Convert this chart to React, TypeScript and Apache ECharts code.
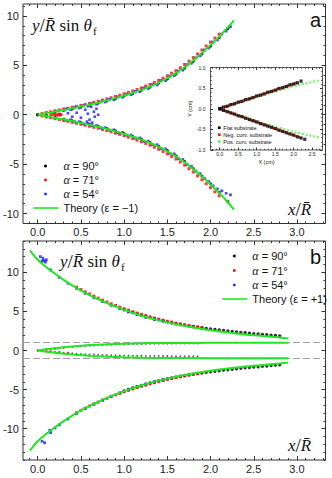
import React, { useEffect, useRef } from "react";
import * as echarts from "echarts";

// ---------------- tick values ----------------
const xMajorTicks = [0, 0.5, 1, 1.5, 2, 2.5, 3];
const xMinorTicks = [-0.1, 0, 0.1, 0.2, 0.3, 0.4, 0.5, 0.6, 0.7, 0.8, 0.9, 1, 1.1, 1.2, 1.3, 1.4, 1.5, 1.6, 1.7, 1.8, 1.9, 2, 2.1, 2.2, 2.3, 2.4, 2.5, 2.6, 2.7, 2.8, 2.9, 3, 3.1, 3.2, 3.3];
const yMajorTicks = [-10, -5, 0, 5, 10];
const yMinorTicksA = [-11, -10, -9, -8, -7, -6, -5, -4, -3, -2, -1, 0, 1, 2, 3, 4, 5, 6, 7, 8, 9, 10, 11];
const yMinorTicksB = [-14, -13, -12, -11, -10, -9, -8, -7, -6, -5, -4, -3, -2, -1, 0, 1, 2, 3, 4, 5, 6, 7, 8, 9, 10, 11, 12, 13, 14];
const insXMajor = [0, 0.5, 1, 1.5, 2, 2.5];
const insXMinor = [-0.2, -0.1, 0, 0.1, 0.2, 0.3, 0.4, 0.5, 0.6, 0.7, 0.8, 0.9, 1, 1.1, 1.2, 1.3, 1.4, 1.5, 1.6, 1.7, 1.8, 1.9, 2, 2.1, 2.2, 2.3, 2.4, 2.5, 2.6, 2.7];
const insYMajor = [-1, -0.5, 0, 0.5, 1];
const insYMinor = [-0.9, -0.8, -0.7, -0.6, -0.4, -0.3, -0.2, -0.1, 0.1, 0.2, 0.3, 0.4, 0.6, 0.7, 0.8, 0.9];

// ---------------- panel a (epsilon = -1) ----------------
const thAx = [0, 0.1, 0.2, 0.3, 0.4, 0.5, 0.6, 0.7, 0.8, 0.9, 1.0, 1.1, 1.2, 1.3, 1.4, 1.5, 1.6, 1.7, 1.8, 1.9, 2.0, 2.1, 2.2, 2.27];
const thAUp = [0, 0.16, 0.32, 0.48, 0.65, 0.83, 1.02, 1.22, 1.44, 1.68, 1.94, 2.22, 2.52, 2.86, 3.25, 3.7, 4.2, 4.8, 5.5, 6.25, 7.05, 7.9, 8.85, 9.55];
const thALo = [0, -0.16, -0.32, -0.48, -0.65, -0.83, -1.02, -1.22, -1.44, -1.68, -1.94, -2.22, -2.52, -2.86, -3.25, -3.7, -4.2, -4.8, -5.5, -6.25, -7.05, -7.9, -8.85, -9.6];

const a90x = [0, 0.1, 0.2, 0.3, 0.4, 0.5, 0.6, 0.7, 0.8, 0.9, 1.0, 1.1, 1.2, 1.3, 1.4, 1.5, 1.6, 1.7, 1.8, 1.9, 2.0, 2.1, 2.2];
const a90Up = [0.02, 0.12, 0.28, 0.44, 0.6, 0.78, 0.97, 1.17, 1.4, 1.62, 1.9, 2.16, 2.48, 2.8, 3.2, 3.62, 4.12, 4.72, 5.4, 6.15, 6.95, 7.8, 8.7];
const a90Lo = [-0.02, -0.14, -0.3, -0.46, -0.62, -0.8, -0.98, -1.18, -1.4, -1.64, -1.9, -2.18, -2.48, -2.82, -3.2, -3.64, -4.15, -4.75, -5.45, -6.2, -7.0, -7.85, -8.8];

const a71x = [0.05, 0.1, 0.15, 0.2, 0.25, 0.3, 0.35, 0.4, 0.45, 0.5, 0.55, 0.6, 0.65, 0.7, 0.75, 0.8, 0.85, 0.9, 0.95, 1.0, 1.05, 1.1, 1.15, 1.2, 1.25, 1.3, 1.35, 1.4, 1.45, 1.5, 1.55, 1.6, 1.65, 1.7, 1.75, 1.8, 1.85, 1.9, 1.95, 2.0, 2.05, 2.1];
const a71Up = [0.12, 0.22, 0.3, 0.4, 0.48, 0.58, 0.66, 0.76, 0.85, 0.95, 1.05, 1.15, 1.26, 1.36, 1.48, 1.6, 1.72, 1.85, 1.98, 2.12, 2.26, 2.41, 2.56, 2.72, 2.9, 3.07, 3.27, 3.48, 3.7, 3.94, 4.2, 4.46, 4.76, 5.08, 5.42, 5.78, 6.15, 6.55, 6.95, 7.35, 7.75, 8.15];
const a71Lo = [-0.12, -0.22, -0.31, -0.4, -0.49, -0.58, -0.67, -0.77, -0.86, -0.96, -1.06, -1.16, -1.27, -1.37, -1.49, -1.61, -1.73, -1.86, -1.99, -2.13, -2.27, -2.42, -2.57, -2.74, -2.91, -3.09, -3.29, -3.5, -3.72, -3.96, -4.22, -4.48, -4.78, -5.1, -5.45, -5.8, -6.18, -6.58, -6.98, -7.38, -7.8, -8.2];
const a71CuspX = [0.15, 0.18, 0.2, 0.22, 0.24, 0.25, 0.26, 0.27];
const a71CuspY = [0, 0.03, 0.05, -0.05, 0.02, 0.08, -0.02, 0];

const a54x = [0.33, 0.43, 0.53, 0.63, 0.73, 0.83, 0.93, 1.03, 1.13, 1.23, 1.33, 1.43, 1.53, 1.63, 1.73, 1.83, 1.93, 2.03, 2.13, 2.23];
const a54Up = [0.58, 0.75, 0.92, 1.12, 1.3, 1.56, 1.8, 2.08, 2.36, 2.7, 3.05, 3.45, 3.9, 4.42, 5.05, 5.75, 6.55, 7.35, 8.15, 8.9];
const a54Lo = [-0.55, -0.72, -0.93, -1.1, -1.32, -1.55, -1.82, -2.06, -2.36, -2.68, -3.02, -3.42, -3.9, -4.45, -5.05, -5.7, -6.45, -7.2, -7.7, -8.1];
const a54x2 = [0.38, 0.48, 0.58, 0.68, 0.78, 0.88, 0.98, 1.08, 1.18, 1.28, 1.38, 1.48, 1.58, 1.68, 1.78, 1.88, 1.98, 2.08, 2.18];
const a54Up2 = [0.5, 0.68, 0.86, 1.05, 1.28, 1.5, 1.76, 2.02, 2.32, 2.64, 3.0, 3.44, 3.95, 4.5, 5.2, 5.95, 6.75, 7.55, 8.45];
const a54Lo2 = [-0.5, -0.7, -0.88, -1.08, -1.3, -1.52, -1.78, -2.04, -2.34, -2.66, -3.02, -3.45, -3.95, -4.52, -5.2, -5.95, -6.75, -7.5, -7.95];
const a54CuspX = [0.35, 0.4, 0.45, 0.5, 0.55, 0.57, 0.58, 0.6, 0.62, 0.63, 0.65, 0.66, 0.68, 0.7];
const a54CuspY = [0.15, -0.2, 0.2, -0.3, 0.5, -0.7, 0.1, -0.5, 0.8, -0.8, 0.3, -0.2, 0.6, 0.0];

// ---------------- panel b (epsilon = +1) ----------------
const thBx = [-0.09, 0, 0.1, 0.2, 0.3, 0.4, 0.5, 0.6, 0.7, 0.8, 0.9, 1.0, 1.2, 1.4, 1.6, 1.8, 2.0, 2.2, 2.4, 2.6, 2.8, 2.9];
const thBUp = [12.8, 11.6, 10.66, 9.81, 9.03, 8.32, 7.67, 7.09, 6.55, 6.06, 5.61, 5.2, 4.45, 3.85, 3.35, 2.95, 2.6, 2.3, 2.05, 1.85, 1.65, 1.55];
const thBLo = [-12.8, -11.6, -10.66, -9.81, -9.03, -8.32, -7.67, -7.09, -6.55, -6.06, -5.61, -5.2, -4.45, -3.85, -3.35, -2.95, -2.6, -2.3, -2.05, -1.85, -1.65, -1.55];
const thBix = [0, 0.1, 0.2, 0.3, 0.4, 0.5, 0.6, 0.8, 1.0, 1.2, 1.5, 2.0, 2.5, 2.9];
const thBiUp = [0, 0.15, 0.29, 0.41, 0.52, 0.61, 0.69, 0.8, 0.87, 0.92, 0.96, 0.98, 0.99, 1.0];
const thBiLo = [0, -0.15, -0.29, -0.41, -0.52, -0.61, -0.69, -0.8, -0.87, -0.92, -0.96, -0.98, -0.99, -1.0];
const asymptotes = [1, -1];

const b90x = [1.0, 1.05, 1.1, 1.15, 1.2, 1.25, 1.3, 1.35, 1.4, 1.45, 1.5, 1.55, 1.6, 1.65, 1.7, 1.75, 1.8, 1.85, 1.9, 1.95, 2.0, 2.05, 2.1, 2.15, 2.2, 2.25, 2.3, 2.35, 2.4, 2.45, 2.5, 2.55, 2.6, 2.65, 2.7, 2.75, 2.8];
const b90Up = [5.22, 5.03, 4.85, 4.67, 4.5, 4.35, 4.2, 4.06, 3.92, 3.79, 3.66, 3.54, 3.43, 3.33, 3.24, 3.15, 3.06, 2.98, 2.9, 2.82, 2.75, 2.68, 2.62, 2.55, 2.49, 2.43, 2.37, 2.31, 2.26, 2.21, 2.16, 2.11, 2.06, 2.01, 1.96, 1.91, 1.87];
const b90Lo = [-5.18, -4.99, -4.8, -4.63, -4.46, -4.3, -4.15, -4.01, -3.88, -3.75, -3.62, -3.51, -3.4, -3.3, -3.2, -3.11, -3.02, -2.94, -2.86, -2.79, -2.72, -2.65, -2.58, -2.51, -2.45, -2.39, -2.33, -2.27, -2.22, -2.17, -2.12, -2.07, -2.02, -1.97, -1.92, -1.87, -1.83];
const b90ix = [0, 0.05, 0.1, 0.15, 0.2, 0.25, 0.3, 0.35, 0.4, 0.45, 0.5, 0.55, 0.6, 0.65, 0.7, 0.75, 0.8, 0.85, 0.9, 0.95, 1.0, 1.05, 1.1, 1.15, 1.2, 1.25, 1.3, 1.35, 1.4, 1.45, 1.5, 1.55, 1.6, 1.65, 1.7, 1.75, 1.8, 1.85];
const b90iUp = [0.02, 0.07, 0.12, 0.18, 0.24, 0.3, 0.36, 0.41, 0.46, 0.51, 0.55, 0.59, 0.62, 0.65, 0.68, 0.7, 0.73, 0.75, 0.77, 0.79, 0.8, 0.81, 0.82, 0.83, 0.84, 0.85, 0.86, 0.86, 0.87, 0.87, 0.88, 0.88, 0.89, 0.89, 0.9, 0.9, 0.9, 0.9];
const b90iLo = [-0.02, -0.06, -0.1, -0.15, -0.2, -0.25, -0.29, -0.33, -0.37, -0.41, -0.44, -0.47, -0.5, -0.53, -0.55, -0.57, -0.59, -0.61, -0.62, -0.64, -0.65, -0.66, -0.67, -0.68, -0.69, -0.7, -0.7, -0.71, -0.71, -0.72, -0.72, -0.73, -0.73, -0.74, -0.74, -0.75, -0.75, -0.75];
const grayX = [1.0, 1.1, 1.2, 1.3, 1.4, 1.5, 1.6, 1.7, 1.8, 1.9, 2.0, 2.1, 2.2, 2.3, 2.4, 2.5, 2.6, 2.7, 2.8, 2.9];
const grayUp = [0.95, 0.96, 0.96, 0.97, 0.97, 0.97, 0.98, 0.98, 0.98, 0.98, 0.99, 0.99, 0.99, 0.99, 0.99, 1.0, 1.0, 1.0, 1.0, 1.0];
const grayLo = [-0.96, -0.96, -0.97, -0.97, -0.97, -0.98, -0.98, -0.98, -0.98, -0.99, -0.99, -0.99, -0.99, -0.99, -1.0, -1.0, -1.0, -1.0, -1.0, -1.0];

const b71x = [0.45, 0.5, 0.55, 0.6, 0.65, 0.7, 0.75, 0.8, 0.85, 0.9, 0.95, 1.0, 1.05, 1.1, 1.15, 1.2, 1.25, 1.3, 1.35, 1.4, 1.45, 1.5, 1.55, 1.6, 1.65, 1.7, 1.75, 1.8, 1.85, 1.9];
const b71Up = [8.1, 7.8, 7.5, 7.22, 6.96, 6.7, 6.45, 6.2, 5.98, 5.76, 5.55, 5.35, 5.16, 4.97, 4.79, 4.62, 4.46, 4.3, 4.15, 4.01, 3.87, 3.74, 3.62, 3.5, 3.39, 3.28, 3.18, 3.08, 2.99, 2.9];
const b71Lo = [-7.95, -7.65, -7.38, -7.1, -6.85, -6.6, -6.35, -6.12, -5.9, -5.68, -5.48, -5.28, -5.1, -4.92, -4.74, -4.58, -4.42, -4.27, -4.12, -3.98, -3.84, -3.71, -3.59, -3.47, -3.36, -3.25, -3.15, -3.05, -2.96, -2.87];
const b71ix = [0.05, 0.1, 0.15, 0.2, 0.25, 0.3, 0.35];
const b71iY = [0.0, 0.12, -0.12, 0.26, -0.22, 0.38, -0.3];

const b54x = [0.05, 0.15, 0.25, 0.35, 0.45, 0.55, 0.65, 0.75, 0.85, 0.95, 1.05, 1.15, 1.25, 1.35, 1.45];
const b54Up = [11.4, 10.3, 9.35, 8.6, 7.95, 7.3, 6.75, 6.25, 5.78, 5.33, 4.93, 4.58, 4.25, 3.95, 3.75];
const b54Lo = [-11.6, -10.5, -9.5, -8.75, -8.05, -7.4, -6.85, -6.35, -5.85, -5.42, -5.0, -4.62, -4.3, -4.0, -3.72];
const b54Ex = [0.03, 0.06, 0.07, 0.09, 0.1, 0.08, 0.14, 0.2];
const b54Ey = [12.0, 11.8, 11.5, 11.3, 11.6, -11.8, -10.2, -9.9];

// ---------------- inset (cm) ----------------
const flatUpX = [0, 0.1, 0.2, 0.3, 0.4, 0.5, 0.6, 0.7, 0.8, 0.9, 1.0, 1.1, 1.2, 1.3, 1.4, 1.5, 1.6, 1.7, 1.8, 1.9, 2.0, 2.1, 2.2];
const flatUpY = [0, 0.04, 0.06, 0.1, 0.12, 0.16, 0.18, 0.22, 0.24, 0.27, 0.31, 0.33, 0.36, 0.4, 0.42, 0.45, 0.49, 0.51, 0.54, 0.58, 0.6, 0.63, 0.67];
const flatLoX = [0, 0.1, 0.2, 0.3, 0.4, 0.5, 0.6, 0.7, 0.8, 0.9, 1.0, 1.1, 1.2, 1.3, 1.4, 1.5, 1.6, 1.7, 1.8, 1.9, 2.0, 2.1, 2.2, 2.3];
const flatLoY = [0, -0.04, -0.07, -0.1, -0.13, -0.17, -0.19, -0.23, -0.26, -0.29, -0.32, -0.36, -0.39, -0.42, -0.45, -0.48, -0.52, -0.55, -0.58, -0.61, -0.64, -0.68, -0.71, -0.74];
const posX = [0.05, 0.15, 0.25, 0.35, 0.45, 0.55, 0.65, 0.75, 0.85, 0.95, 1.05, 1.15, 1.25, 1.35, 1.45, 1.55, 1.65, 1.75, 1.85, 1.95, 2.05, 2.15, 2.25, 2.35, 2.45, 2.55, 2.65];
const posUpY = [0.01, 0.04, 0.07, 0.1, 0.13, 0.15, 0.18, 0.21, 0.24, 0.27, 0.3, 0.32, 0.35, 0.38, 0.4, 0.43, 0.46, 0.48, 0.51, 0.53, 0.56, 0.58, 0.6, 0.62, 0.64, 0.66, 0.68];
const posLoY = [-0.02, -0.05, -0.08, -0.11, -0.14, -0.17, -0.2, -0.23, -0.26, -0.28, -0.31, -0.34, -0.37, -0.39, -0.42, -0.45, -0.47, -0.5, -0.52, -0.55, -0.57, -0.59, -0.61, -0.63, -0.65, -0.67, -0.69];
const negUpX = [0.05, 0.15, 0.25, 0.35, 0.45, 0.55, 0.65, 0.75, 0.85, 0.95, 1.05, 1.15, 1.25, 1.35, 1.45, 1.55, 1.65, 1.75, 1.85, 1.95, 2.05];
const negUpY = [0.02, 0.05, 0.08, 0.11, 0.14, 0.17, 0.2, 0.23, 0.26, 0.29, 0.32, 0.35, 0.38, 0.41, 0.44, 0.47, 0.5, 0.53, 0.56, 0.59, 0.62];
const negLoX = [0.05, 0.15, 0.25, 0.35, 0.45, 0.55, 0.65, 0.75, 0.85, 0.95, 1.05, 1.15, 1.25, 1.35, 1.45, 1.55, 1.65, 1.75, 1.85, 1.95, 2.05, 2.15];
const negLoY = [-0.02, -0.05, -0.08, -0.12, -0.15, -0.18, -0.21, -0.24, -0.28, -0.31, -0.34, -0.37, -0.4, -0.44, -0.47, -0.5, -0.53, -0.56, -0.6, -0.63, -0.66, -0.69];

// ---------------- styles ----------------
const FRAME = "#333";
const LABEL = "#222";
const GREEN = "#22e622";
const RED = "#ee1111";
const BLUE = "#1a1aff";
const LGREEN = "#66ee55";
const SANS = "Liberation Sans, Arial, sans-serif";
const SERIF = "Liberation Serif, Times New Roman, serif";

const pts = (xs: number[], ys: number[]) => xs.map((x, i) => [x, ys[i]]);

function addFrame(
  xAxes: any[], yAxes: any[], grid: number,
  xr: number[], yr: number[],
  xMaj: number[], xMin: number[], yMaj: number[], yMin: number[],
  o: { maj: number; min: number; fs: number; xMargin: number; yMargin: number; xFmt: any; yFmt: any; xName?: any; yName?: any }
) {
  const xi = xAxes.length;
  const yi = yAxes.length;
  const mkX = (pos: string, vals: number[], len: number, lab: boolean, nm?: any) => ({
    type: "value", gridIndex: grid, min: xr[0], max: xr[1], position: pos,
    axisLine: { show: false, onZero: false }, splitLine: { show: false },
    axisTick: { show: true, inside: true, length: len, customValues: vals, lineStyle: { color: FRAME, width: 1 } },
    axisLabel: lab
      ? { show: true, customValues: xMaj, formatter: o.xFmt, fontSize: o.fs, color: LABEL, margin: o.xMargin, fontFamily: SANS }
      : { show: false },
    ...(nm || {}),
  });
  const mkY = (pos: string, vals: number[], len: number, lab: boolean, nm?: any) => ({
    type: "value", gridIndex: grid, min: yr[0], max: yr[1], position: pos,
    axisLine: { show: false, onZero: false }, splitLine: { show: false },
    axisTick: { show: true, inside: true, length: len, customValues: vals, lineStyle: { color: FRAME, width: 1 } },
    axisLabel: lab
      ? { show: true, customValues: yMaj, formatter: o.yFmt, fontSize: o.fs, color: LABEL, margin: o.yMargin, fontFamily: SANS }
      : { show: false },
    ...(nm || {}),
  });
  xAxes.push(mkX("bottom", xMaj, o.maj, true, o.xName), mkX("bottom", xMin, o.min, false), mkX("top", xMaj, o.maj, false), mkX("top", xMin, o.min, false));
  yAxes.push(mkY("left", yMaj, o.maj, true, o.yName), mkY("left", yMin, o.min, false), mkY("right", yMaj, o.maj, false), mkY("right", yMin, o.min, false));
  return { x: xi, y: yi };
}

export default function App() {
  const ref = useRef<HTMLDivElement>(null);
  useEffect(() => {
    if (!ref.current) return;
    const chart = echarts.init(ref.current, undefined, { renderer: "svg" });
    const xAxes: any[] = [];
    const yAxes: any[] = [];
    const f1 = (v: number) => v.toFixed(1);
    const f0 = (v: number) => String(v);
    const A = addFrame(xAxes, yAxes, 0, [-0.17, 3.33], [-11, 11.2], xMajorTicks, xMinorTicks, yMajorTicks, yMinorTicksA,
      { maj: 4, min: 2, fs: 11, xMargin: 3, yMargin: 4, xFmt: f1, yFmt: f0 });
    const B = addFrame(xAxes, yAxes, 1, [-0.17, 3.33], [-14, 14], xMajorTicks, xMinorTicks, yMajorTicks, yMinorTicksB,
      { maj: 4, min: 2, fs: 11, xMargin: 3, yMargin: 4, xFmt: f1, yFmt: f0 });
    const I = addFrame(xAxes, yAxes, 2, [-0.25, 2.78], [-1, 1], insXMajor, insXMinor, insYMajor, insYMinor,
      {
        maj: 2.5, min: 1.2, fs: 5, xMargin: 1.5, yMargin: 5, xFmt: f1, yFmt: f1,
        xName: { name: "X (cm)", nameLocation: "middle", nameGap: 9, nameTextStyle: { fontSize: 5.5, fontFamily: SANS, color: LABEL } },
        yName: { name: "Y (cm)", nameLocation: "middle", nameGap: 2.5, nameTextStyle: { fontSize: 5.5, fontFamily: SANS, color: LABEL } },
      });

    const sc = (ax: { x: number; y: number }, data: number[][], color: string, size: number, symbol = "rect", z = 2) => ({
      type: "scatter", xAxisIndex: ax.x, yAxisIndex: ax.y, data, symbol, symbolSize: size,
      itemStyle: { color }, z, silent: true,
    });
    const ln = (ax: { x: number; y: number }, data: number[][], extra: any = {}) => ({
      type: "line", xAxisIndex: ax.x, yAxisIndex: ax.y, data, showSymbol: false, smooth: 0.3,
      lineStyle: { color: GREEN, width: 2 }, z: 5, silent: true, ...extra,
    });

    const series: any[] = [
      // panel a
      sc(A, pts(a90x, a90Up), "#000", 3.2, "circle"),
      sc(A, pts(a90x, a90Lo), "#000", 3.2, "circle"),
      sc(A, pts(a71x, a71Up), RED, 3),
      sc(A, pts(a71x, a71Lo), RED, 3),
      sc(A, pts(a71CuspX, a71CuspY), RED, 3),
      sc(A, pts(a54x, a54Up), BLUE, 2.8),
      sc(A, pts(a54x, a54Lo), BLUE, 2.8),
      sc(A, pts(a54x2, a54Up2), BLUE, 2.6),
      sc(A, pts(a54x2, a54Lo2), BLUE, 2.6),
      sc(A, pts(a54CuspX, a54CuspY), BLUE, 2.6),
      ln(A, pts(thAx, thAUp)),
      ln(A, pts(thAx, thALo)),
      // panel b
      sc(B, pts(grayX, grayUp), "#9a9a9a", 1.6),
      sc(B, pts(grayX, grayLo), "#9a9a9a", 1.6),
      sc(B, pts(b90x, b90Up), "#000", 3.4, "circle"),
      sc(B, pts(b90x, b90Lo), "#000", 3.4, "circle"),
      sc(B, pts(b90ix, b90iUp), "#333", 1.8, "circle"),
      sc(B, pts(b90ix, b90iLo), "#333", 1.8, "circle"),
      sc(B, pts(b71x, b71Up), RED, 3),
      sc(B, pts(b71x, b71Lo), RED, 3),
      sc(B, pts(b71ix, b71iY), RED, 2.2),
      sc(B, pts(b54x, b54Up), BLUE, 2.8),
      sc(B, pts(b54x, b54Lo), BLUE, 2.8),
      sc(B, pts(b54Ex, b54Ey), BLUE, 2.8),
      ln(B, pts(thBx, thBUp)),
      ln(B, pts(thBx, thBLo)),
      ln(B, pts(thBix, thBiUp), {
        markLine: {
          silent: true, symbol: "none", label: { show: false },
          lineStyle: { color: "#a0a0a0", type: [7, 3], width: 1.2 },
          data: asymptotes.map((v) => ({ yAxis: v })),
        },
      }),
      ln(B, pts(thBix, thBiLo)),
      // inset
      sc(I, pts(posX, posUpY), LGREEN, 2.2),
      sc(I, pts(posX, posLoY), LGREEN, 2.2),
      sc(I, pts(negUpX, negUpY), RED, 2.6),
      sc(I, pts(negLoX, negLoY), RED, 2.6),
      sc(I, pts(flatUpX, flatUpY), "#000", 3.2, "rect", 3),
      sc(I, pts(flatLoX, flatLoY), "#000", 3.2, "rect", 3),
    ];

    const mathRich = {
      i: { fontFamily: SERIF, fontStyle: "italic", fontSize: 17, fill: "#111" },
      s: { fontFamily: SERIF, fontSize: 19, fill: "#111" },
      n: { fontFamily: SERIF, fontSize: 17, fill: "#111" },
    };
    const legRich = {
      g: { fontFamily: SERIF, fontStyle: "italic", fontSize: 12, fill: "#111" },
      n: { fontFamily: SANS, fontSize: 11, fill: "#111" },
    };
    const txt = (x: number, y: number, text: string, rich: any) => ({
      type: "text", x, y, silent: true, z: 20,
      style: { text, rich, align: "left", verticalAlign: "middle" },
    });
    const plain = (x: number, y: number, text: string, fs: number, font = SANS, align = "left") => ({
      type: "text", x, y, silent: true, z: 20,
      style: { text, fontSize: fs, fontFamily: font, fill: "#111", align, verticalAlign: "middle" },
    });
    const legend = (x0: number, ys: number[], theory: string) => [
      { type: "circle", shape: { cx: x0, cy: ys[0], r: 1.5 }, style: { fill: "#000" }, z: 20 },
      { type: "rect", shape: { x: x0 - 1.3, y: ys[1] - 1.3, width: 2.6, height: 2.6 }, style: { fill: RED }, z: 20 },
      { type: "rect", shape: { x: x0 - 1.2, y: ys[2] - 1.2, width: 2.4, height: 2.4 }, style: { fill: BLUE }, z: 20 },
      { type: "line", shape: { x1: x0 - 12, y1: ys[3], x2: x0 + 13, y2: ys[3] }, style: { stroke: GREEN, lineWidth: 1.6 }, z: 20 },
      txt(x0 + 18, ys[0], "{g|α}{n| = 90°}", legRich),
      txt(x0 + 18, ys[1], "{g|α}{n| = 71°}", legRich),
      txt(x0 + 18, ys[2], "{g|α}{n| = 54°}", legRich),
      plain(x0 + 18, ys[3], theory, 11),
    ];
    const insLeg = (x0: number, y: number, color: string, t: string) => [
      { type: "rect", shape: { x: x0 - 1.3, y: y - 1.3, width: 2.6, height: 2.6 }, style: { fill: color }, z: 21 },
      plain(x0 + 4, y, t, 5.5),
    ];

    const graphic = [
      txt(32, 25, "{i|y}{s|/}{i|R̄}{n| sin }{i|θ}", mathRich),
      plain(93, 31, "f", 11, SERIF),
      txt(288, 209, "{i|x}{s|/}{i|R̄}", mathRich),
      plain(310, 20, "a", 20),
      ...legend(45.5, [166, 180, 194, 208], "Theory (ε = −1)"),
      txt(60, 261, "{i|y}{s|/}{i|R̄}{n| sin }{i|θ}", mathRich),
      plain(121, 267, "f", 11, SERIF),
      txt(288, 445, "{i|x}{s|/}{i|R̄}", mathRich),
      plain(310, 257, "b", 20),
      ...legend(234.3, [256, 270.5, 285, 299], "Theory (ε = +1)"),
      ...insLeg(219.3, 127.7, "#000", "Flat substrate"),
      ...insLeg(219.3, 134.7, RED, "Neg. curv. substrate"),
      ...insLeg(219.3, 141.5, LGREEN, "Pos. curv. substrate"),
    ];

    chart.setOption({
      animation: false,
      backgroundColor: "#fff",
      grid: [
        { left: 23, top: 4, width: 302.5, height: 219.5, show: true, borderColor: FRAME, borderWidth: 1, backgroundColor: "transparent" },
        { left: 23, top: 241, width: 302.5, height: 219, show: true, borderColor: FRAME, borderWidth: 1, backgroundColor: "transparent" },
        { left: 210.5, top: 67.5, width: 112, height: 82.5, show: true, borderColor: FRAME, borderWidth: 0.8, backgroundColor: "#fff" },
      ],
      xAxis: xAxes,
      yAxis: yAxes,
      series,
      graphic: { elements: graphic },
    });
    return () => chart.dispose();
  }, []);
  return <div ref={ref} style={{ position: "fixed", left: 0, top: 0, width: 332, height: 478 }} />;
}
